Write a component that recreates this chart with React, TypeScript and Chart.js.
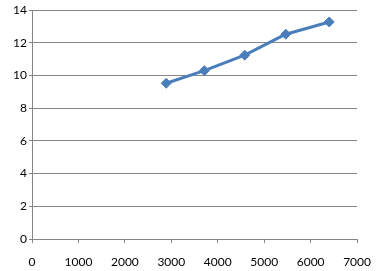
import React, { useEffect, useRef } from "react";
import { Chart, registerables } from "chart.js";

Chart.register(...registerables);

const xValues = [2890, 3710, 4580, 5465, 6400];
const yValues = [9.52, 10.29, 11.24, 12.52, 13.27];
const xTickStep = 1000;
const yTickStep = 2;

export default function App() {
  const ref = useRef<HTMLCanvasElement | null>(null);
  useEffect(() => {
    document.body.style.margin = "0";
    const ctx = ref.current!;
    const chart = new Chart(ctx, {
      type: "line",
      data: {
        datasets: [
          {
            data: xValues.map((x, i) => ({ x, y: yValues[i] })),
            borderColor: "#4A7EBB",
            backgroundColor: "#4A7EBB",
            borderWidth: 3,
            pointStyle: "rectRot",
            pointRadius: 5,
            pointBorderWidth: 1,
            tension: 0,
            borderJoinStyle: "round",
            borderCapStyle: "round",
          },
        ],
      },
      options: {
        responsive: false,
        animation: false,
        maintainAspectRatio: false,
        layout: { padding: { top: 10, right: 15, left: 0, bottom: 0 } },
        plugins: { legend: { display: false }, tooltip: { enabled: false } },
        scales: {
          x: {
            type: "linear",
            min: 0,
            max: 7000,
            ticks: {
              stepSize: xTickStep,
              color: "#000",
              font: { family: "Lato", size: 12 },
              padding: 12,
              maxRotation: 0,
              autoSkip: false,
              callback: (v: any) => String(v),
            },
            grid: {
              drawOnChartArea: false,
              drawTicks: true,
              tickLength: 4,
              color: "#868686",
            },
            border: { display: true, color: "#868686", width: 1 },
            afterFit: (s: any) => {
              s.height = 32;
            },
          },
          y: {
            min: 0,
            max: 14,
            ticks: {
              stepSize: yTickStep,
              color: "#000",
              font: { family: "Lato", size: 12 },
              padding: 2,
              callback: (v: any) => String(v),
            },
            grid: {
              color: "#868686",
              drawTicks: true,
              tickLength: 3,
            },
            border: { display: true, color: "#868686", width: 1 },
            afterFit: (s: any) => {
              s.width = 32;
            },
          },
        },
      },
    });
    return () => chart.destroy();
  }, []);
  return (
    <div style={{ width: 383, height: 271, background: "#fff" }}>
      <canvas ref={ref} width={383} height={271} style={{ display: "block" }} />
    </div>
  );
}
